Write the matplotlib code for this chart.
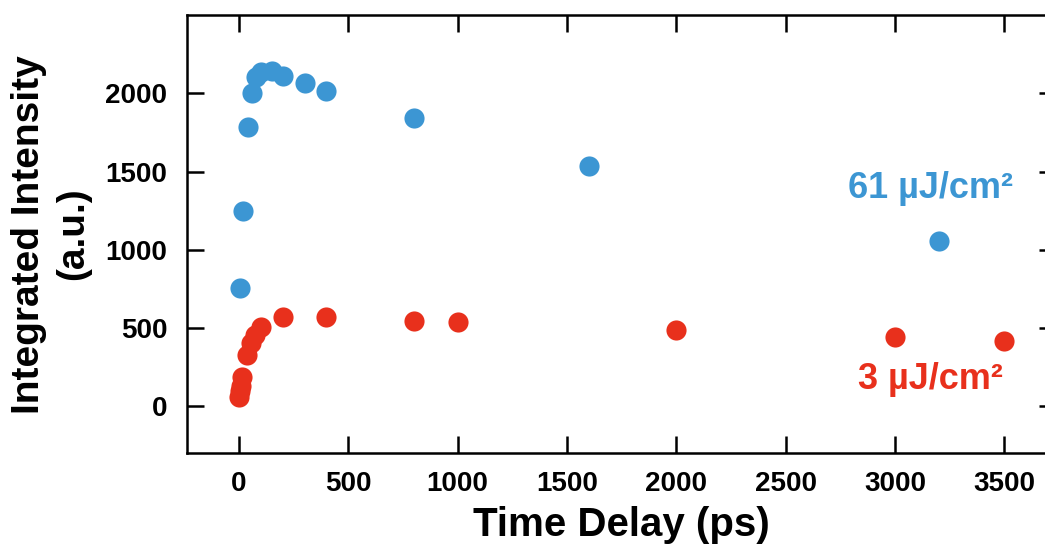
import matplotlib
matplotlib.use("Agg")
import matplotlib.pyplot as plt

# time delay (ps) and integrated intensity (a.u.)
t_high = [5, 20, 40, 60, 80, 100, 150, 200, 300, 400, 800, 1600, 3200]
i_high = [758, 1250, 1782, 2004, 2106, 2138, 2142, 2110, 2063, 2017, 1840, 1535, 1058]

t_low = [0, 3, 8, 15, 35, 55, 75, 100, 200, 400, 800, 1000, 2000, 3000, 3500]
i_low = [60, 100, 130, 190, 325, 405, 455, 510, 571, 571, 546, 536, 487, 440, 418]

label_high = "61 µJ/cm²"
label_low = "3 µJ/cm²"

blue = "#3C96D3"
red = "#E8301C"

plt.rcParams["font.family"] = ["Liberation Sans", "DejaVu Sans"]
plt.rcParams["font.weight"] = "bold"

fig = plt.figure(figsize=(10.45, 5.5), dpi=100)
ax = fig.add_axes([0.1787, 0.1758, 1.0105 - 0.1787, 0.9727 - 0.1758])

ax.plot(t_high, i_high, "o", color=blue, markersize=14.5, markeredgewidth=0)
ax.plot(t_low, i_low, "o", color=red, markersize=14.5, markeredgewidth=0)

ax.text(3164, 1389, label_high, color=blue, fontsize=26, fontweight="bold",
        ha="center", va="center")
ax.text(3164, 170, label_low, color=red, fontsize=26, fontweight="bold",
        ha="center", va="center")

ax.set_xlim(-239, 3736)
ax.set_ylim(-300, 2500)
ax.set_xticks(range(0, 3501, 500))
ax.set_yticks(range(0, 2001, 500))

ax.tick_params(direction="in", length=12, width=1.8, labelsize=20,
               top=True, right=True, pad=13)
ax.tick_params(axis="y", pad=14)
for s in ax.spines.values():
    s.set_linewidth(1.8)

ax.set_xlabel("Time Delay (ps)", fontsize=29, fontweight="bold", labelpad=6)
ax.set_ylabel("Integrated Intensity\n(a.u.)", fontsize=28, fontweight="bold",
              labelpad=10, linespacing=1.3)

fig.savefig("out.png", dpi=100)
